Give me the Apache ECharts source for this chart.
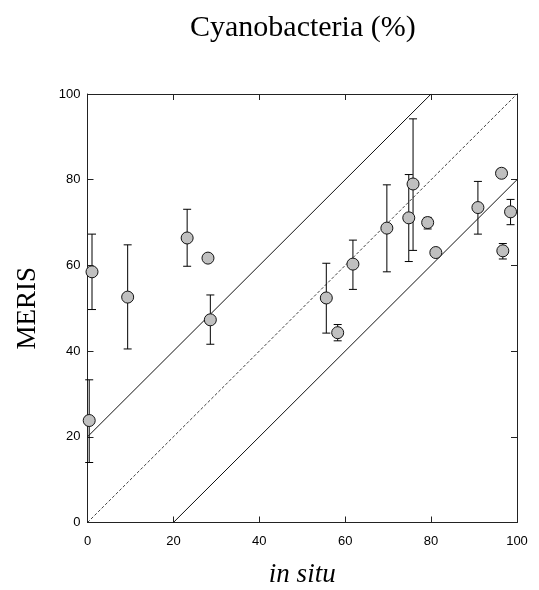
<!DOCTYPE html>
<html>
<head>
<meta charset="utf-8">
<script src="https://cdn.jsdelivr.net/npm/echarts@6/dist/echarts.min.js"></script>
<style>
  html, body { margin: 0; padding: 0; background: #fff; }
  #chart { width: 539px; height: 590px; }
</style>
</head>
<body>
<div id="chart"></div>
<script>
// values
const inSitu = [0.4, 1.05, 9.35, 23.2, 28.05, 28.6, 55.6, 58.25, 61.8, 69.7, 74.8, 75.8, 79.2, 81.1, 90.9, 96.4, 96.7, 98.5];
const meris  = [23.8, 58.5, 52.6, 66.4, 61.7, 47.3, 52.4, 44.3, 60.3, 68.7, 71.1, 79.0, 70.0, 63.0, 73.5, 81.5, 63.4, 72.5];
const errLow  = [14.0, 49.7, 40.5, 59.8, null, 41.6, 44.2, 42.4, 54.4, 58.5, 60.9, 63.5, 68.5, null, 67.3, 80.5, 61.5, 69.5];
const errHigh = [33.3, 67.3, 64.8, 73.1, null, 53.1, 60.5, 46.2, 65.9, 78.8, 81.2, 94.2, 71.2, null, 79.6, 82.5, 65.1, 75.4];
const upperLine = [[0, 20], [80, 100]];
const oneToOne = [[0, 0], [100, 100]];
const lowerLine = [[20, 0], [100, 80]];

const points = inSitu.map((x, i) => [x, meris[i]]);
const bars = inSitu.map((x, i) => [x, errLow[i], errHigh[i]]).filter(d => d[1] != null);

const chart = echarts.init(document.getElementById('chart'));

const axisBase = {
  type: 'value', min: 0, max: 100, interval: 20,
  axisLine: { show: true, onZero: false, lineStyle: { color: '#222', width: 1 } },
  axisTick: { show: true, inside: true, length: 6, lineStyle: { color: '#222' } },
  splitLine: { show: false }
};

const option = {
  animation: false,
  title: {
    text: 'Cyanobacteria (%)',
    left: 185, top: 8,
    textStyle: { fontFamily: 'Liberation Serif', fontSize: 30, fontWeight: 'normal', color: '#000' }
  },
  grid: { left: 87.5, right: 22, top: 94, bottom: 67.5, outerBoundsMode: 'none', containLabel: false },
  xAxis: [
    Object.assign({}, axisBase, {
      position: 'bottom',
      name: 'in situ', nameLocation: 'middle', nameGap: 39,
      nameTextStyle: { fontFamily: 'Liberation Serif', fontStyle: 'italic', fontSize: 27, color: '#000' },
      axisLabel: { fontFamily: 'Liberation Sans', fontSize: 13, color: '#000', margin: 12 }
    }),
    Object.assign({}, axisBase, { position: 'top', axisLabel: { show: false } })
  ],
  yAxis: [
    Object.assign({}, axisBase, {
      position: 'left',
      name: 'MERIS', nameLocation: 'middle', nameGap: 46,
      nameTextStyle: { fontFamily: 'Liberation Serif', fontSize: 27, color: '#000' },
      axisLabel: { fontFamily: 'Liberation Sans', fontSize: 13, color: '#000', margin: 7 }
    }),
    Object.assign({}, axisBase, { position: 'right', axisLabel: { show: false } })
  ],
  series: [
    {
      type: 'line', data: upperLine, symbol: 'none', silent: true,
      lineStyle: { color: '#111', width: 1 }
    },
    {
      type: 'line', data: oneToOne, symbol: 'none', silent: true,
      lineStyle: { color: '#111', width: 0.8, type: [3, 2] }
    },
    {
      type: 'line', data: lowerLine, symbol: 'none', silent: true,
      lineStyle: { color: '#111', width: 1 }
    },
    {
      type: 'custom', data: bars, z: 3,
      renderItem: function (params, api) {
        const top = api.coord([api.value(0), api.value(2)]);
        const bot = api.coord([api.value(0), api.value(1)]);
        const half = 4;
        const style = { stroke: '#000', lineWidth: 1 };
        return {
          type: 'group',
          children: [
            { type: 'line', shape: { x1: top[0], y1: top[1], x2: bot[0], y2: bot[1] }, style: style },
            { type: 'line', shape: { x1: top[0] - half, y1: top[1], x2: top[0] + half, y2: top[1] }, style: style },
            { type: 'line', shape: { x1: bot[0] - half, y1: bot[1], x2: bot[0] + half, y2: bot[1] }, style: style }
          ]
        };
      }
    },
    {
      type: 'scatter', data: points, symbol: 'circle', symbolSize: 12, z: 4,
      itemStyle: { color: '#c0c0c0', borderColor: '#111', borderWidth: 1, opacity: 1 }
    }
  ]
};

chart.setOption(option);
</script>
</body>
</html>
